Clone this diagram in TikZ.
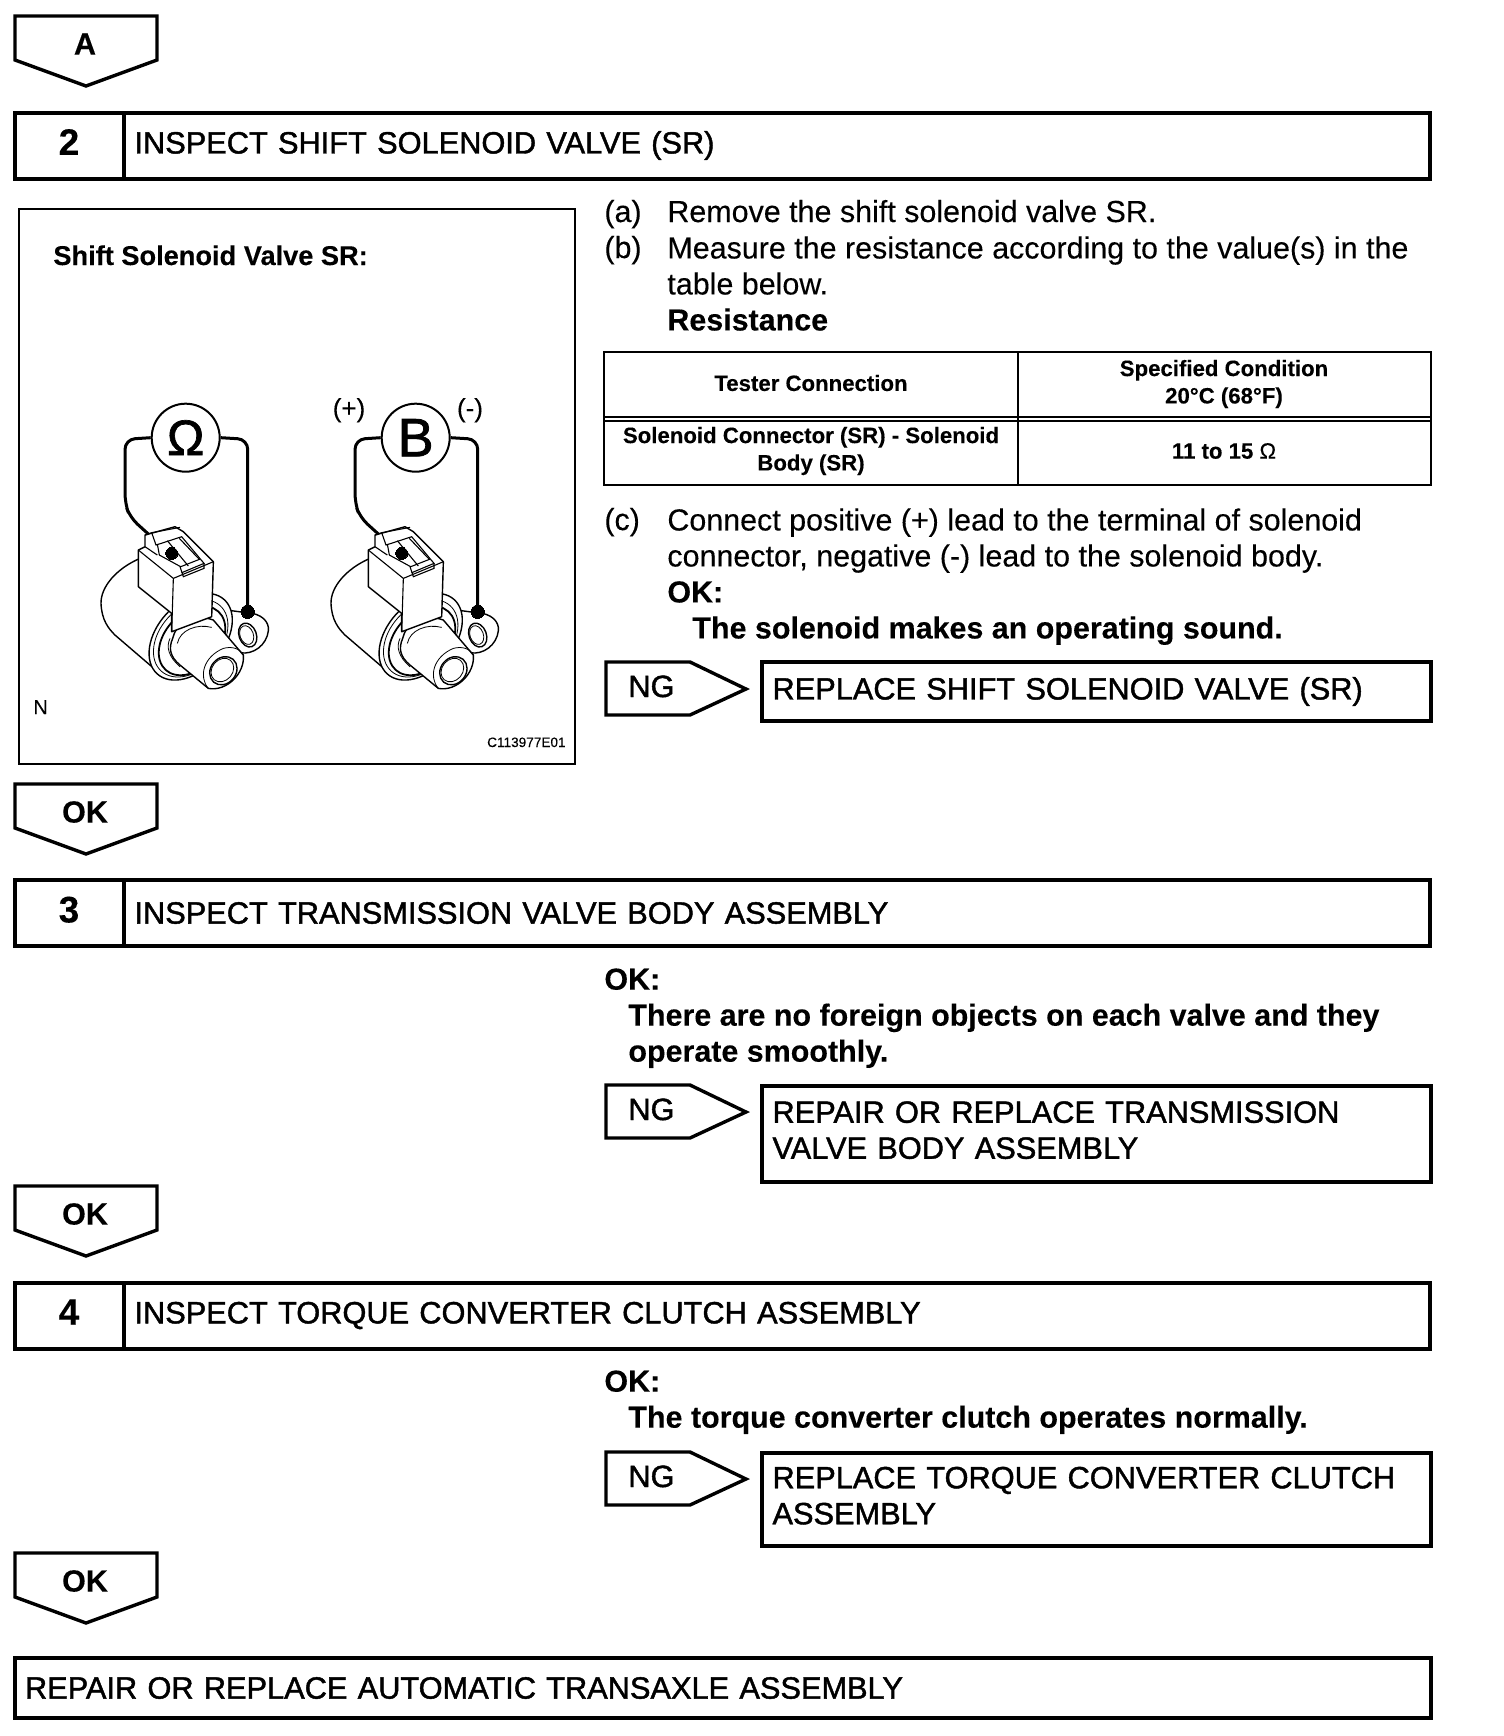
\documentclass[tikz,border=0pt]{standalone}
\usepackage{fontspec}
\setmainfont[FakeBold=0.2]{Liberation Sans}
\newfontfamily\capsfont[FakeBold=1.4]{Liberation Sans}
\usetikzlibrary{positioning}
\newcommand{\bodyfont}{\fontsize{15.22}{18}\selectfont}
\newcommand{\capsize}{\capsfont\fontsize{15.38}{18}\selectfont}
\newcommand{\tablefont}{\fontsize{11.1}{13.7}\selectfont\bfseries}
\newcommand{\liftstrut}{\rule[-4pt]{0pt}{0pt}}
\newcommand{\numstrut}{\rule[-3.5pt]{0pt}{0pt}}
\tikzset{
  heavyline/.style={draw, line width=2pt, line join=miter},
  flagline/.style={draw, line width=1.7pt, fill=white, line join=miter},
  numbox/.style={heavyline, minimum width=54.5pt, minimum height=33pt, inner sep=0pt, outer sep=0pt, font=\fontsize{18.5}{20}\selectfont\bfseries},
  titlebox/.style={heavyline, minimum width=653pt, minimum height=33pt, inner sep=0pt, outer sep=0pt, text width=642pt, font=\capsize, align=left},
  resultbox/.style={heavyline, anchor=north west, minimum width=334.5pt, inner sep=0pt, outer sep=0pt, text width=324pt, font=\capsize, align=left},
  bodytext/.style={anchor=base west, inner sep=0pt, font=\bodyfont, align=left},
  celltext/.style={inner sep=0pt, font=\tablefont, align=center},
  tableline/.style={draw, line width=1pt},
  thinpart/.style={draw, line width=0.7pt, fill=white},
  wirepart/.style={draw, line width=1.5pt, rounded corners=5pt},
  meter/.style={circle, draw, line width=1pt, minimum size=34pt, inner sep=0pt},
  pics/okflag/.style={code={
    \draw[flagline] (0,0) -- (142,0) -- (142,44) -- (71,70) -- (0,44) -- cycle;
    \node[font=\fontsize{15.3}{18}\selectfont\bfseries, inner sep=0pt] (-label) at (70,28) {#1};
  }},
  pics/ngflag/.style={code={
    \draw[flagline] (1,0) -- (85,0) -- (141,27) -- (85,53) -- (1,53) -- cycle;
    \node[anchor=base west, font=\capsize, inner sep=0pt] (-label) at (23,35) {#1};
  }},
  % one valve with its tester, drawn in thirds of a pixel
  pics/valve/.style 2 args={code={
    \begin{scope}[x=0.1667pt, y=-0.1667pt]
      % mounting ear
      \draw[thinpart] (440,660) -- (500,668) .. controls (545,670) and (568,695) .. (565,722)
        .. controls (560,765) and (520,795) .. (480,788) -- (440,770) -- cycle;
      \draw[thinpart, rotate around={-70:(503,735)}] (503,735) ellipse [x radius=37, y radius=26];
      \draw[line width=0.4pt, rotate around={-70:(500,735)}] (500,735) ellipse [x radius=29, y radius=20];
      % body
      \draw[thinpart] (180,505) .. controls (110,535) and (62,590) .. (63,640)
        .. controls (65,690) and (85,715) .. (105,735) -- (225,838) -- (330,850) -- (330,600) -- cycle;
      % flange rings
      \draw[thinpart, rotate around={48:(332,740)}] (332,740) ellipse [x radius=150, y radius=100];
      \draw[line width=0.4pt, rotate around={48:(332,745)}] (332,745) ellipse [x radius=132, y radius=92];
      \draw[thinpart, line width=0.9pt, rotate around={48:(336,752)}] (336,752) ellipse [x radius=118, y radius=82];
      % tube
      \draw[thinpart] (278,745) .. controls (285,700) and (350,670) .. (400,690) -- (490,795)
        .. controls (495,850) and (440,905) .. (385,895) -- (300,825) .. controls (270,800) and (265,775) .. (278,745) -- cycle;
      \draw[line width=0.4pt] (292,760) .. controls (300,720) and (350,700) .. (395,712);
      \draw[line width=0.4pt] (270,745) .. controls (258,770) and (265,800) .. (300,830);
      \draw[line width=0.4pt] (385,895) .. controls (355,860) and (370,800) .. (430,775) .. controls (455,768) and (480,775) .. (490,795);
      \draw[thinpart, rotate around={50:(430,842)}] (430,842) ellipse [x radius=45, y radius=38];
      \draw[line width=0.4pt, rotate around={50:(427,840)}] (427,840) ellipse [x radius=38, y radius=31];
      % connector block
      \draw[thinpart, line join=round] (175,480) -- (195,470) -- (195,435) -- (285,410) -- (310,425) -- (400,515)
        -- (395,680) -- (275,725) -- (275,670) -- (175,590) -- cycle;
      \draw[line width=0.55pt] (175,480) -- (280,565) -- (400,515);
      \draw[line width=0.55pt] (280,565) -- (275,725);
      \draw[line width=0.55pt] (195,435) -- (215,428) -- (300,412);
      \draw[line width=0.55pt] (195,470) -- (232,495);
      \draw[line width=0.55pt] (215,428) -- (228,465) -- (305,440) -- (372,520) -- (305,548);
      \draw[line width=0.55pt] (232,462) -- (238,495) -- (302,530) -- (358,508) -- (298,445);
      \draw[line width=0.55pt] (300,530) -- (310,560) -- (372,535) -- (372,520);
      \draw[line width=0.55pt] (262,452) -- (325,528);
      \draw[fill=black, line width=0pt] (275,490) circle [radius=18];
      % tester
      \node[meter, font=\capsfont\fontsize{#1}{#1}\selectfont] (-meter) at (317,143) {#2};
      \coordinate (-pin) at (205,432);
      \coordinate (-ground) at (503,665);
      \draw[wirepart] (-meter.west) -- (135,148) -- (135,340) -- (150,382) -- (-pin);
      \draw[wirepart] (-meter.east) -- (503,148) -- (-ground);
      \draw[fill=black, line width=0pt] (-ground) circle [radius=20];
    \end{scope}
  }},
}
\begin{document}
\begin{tikzpicture}[x=0.5pt, y=-0.5pt]
  \useasboundingbox[fill=white] (0,0) rectangle (1504,1736);

  \pic (flaga) at (15,16) {okflag=A};

  % step 2
  \node[numbox] (num2) at (69,145.5) {2\numstrut};
  \node[titlebox, right=0pt of num2] (title2) {INSPECT SHIFT SOLENOID VALVE (SR)};

  \node[draw, line width=1pt, minimum width=278pt, minimum height=277.5pt, anchor=north west, inner sep=0pt] (frame) at (18,208) {};
  \node[anchor=base west, inner sep=0pt, font=\fontsize{13.6}{15}\selectfont\bfseries] (figtitle) at (53,265) {Shift Solenoid Valve SR:};
  \pic (ohm) at (80,390) {valve={25}{\char"03A9}};
  \pic (batt) at (310,390) {valve={27}{B}};
  \node[anchor=base, inner sep=0pt, font=\fontsize{13}{15}\selectfont] (plus) at (349,417) {(+)};
  \node[anchor=base, inner sep=0pt, font=\fontsize{13}{15}\selectfont] (minus) at (470,417) {(-)};
  \node[anchor=base west, inner sep=0pt, font=\fontsize{10}{12}\selectfont] (nmark) at (33,714) {N};
  \node[anchor=base east, inner sep=0pt, font=\fontsize{6.8}{8}\selectfont] (figcode) at (566,747) {C113977E01};

  \node[bodytext] (marka) at (604,222) {(a)};
  \node[bodytext] (texta) at (667,222) {Remove the shift solenoid valve SR.};
  \node[bodytext] (markb) at (604,258) {(b)};
  \node[bodytext, anchor=north west] (textb) at (667,236) {Measure the resistance according to the value(s) in the\\table below.\\\textbf{Resistance}};

  % resistance table
  \node[tableline, anchor=north west, minimum width=413.5pt, minimum height=66.5pt, inner sep=0pt] (table) at (603,351) {};
  \coordinate (tabletop) at (1018,351);
  \coordinate (tablebottom) at (1018,485);
  \draw[tableline, line width=0.6pt] (tabletop) -- (tablebottom);
  \draw[tableline] (table.west |- 0,416.5) -- (table.east |- 0,416.5);
  \draw[tableline] (table.west |- 0,420.5) -- (table.east |- 0,420.5);
  \node[celltext] (head1) at (811,383) {Tester Connection};
  \node[celltext] (head2) at (1224,384) {Specified Condition\\20°C (68°F)};
  \node[celltext] (cell1) at (811,451) {Solenoid Connector (SR) - Solenoid\\Body (SR)};
  \node[celltext] (cell2) at (1224,451) {11 to 15 {\mdseries\char"03A9}};

  \node[bodytext] (markc) at (604,530) {(c)};
  \node[bodytext, anchor=north west] (textc) at (667,508) {Connect positive (+) lead to the terminal of solenoid\\connector, negative (-) lead to the solenoid body.\\\textbf{OK:}\\\hspace*{12.5pt}\textbf{The solenoid makes an operating sound.}};

  \pic (ng2) at (605,662) {ngflag=NG};
  \node[resultbox, minimum height=29.5pt] (res2) at (762,662) {REPLACE SHIFT SOLENOID VALVE (SR)};
  \pic (ok2) at (15,784) {okflag=OK};

  % step 3
  \node[numbox] (num3) at (69,913) {3\numstrut};
  \node[titlebox, right=0pt of num3] (title3) {INSPECT TRANSMISSION VALVE BODY ASSEMBLY};
  \node[bodytext, anchor=north west] (text3) at (604,968) {\textbf{OK:}\\\hspace*{12pt}\textbf{There are no foreign objects on each valve and they}\\\hspace*{12pt}\textbf{operate smoothly.}};
  \pic (ng3) at (605,1085) {ngflag=NG};
  \node[resultbox, minimum height=48pt] (res3) at (762,1086) {REPAIR OR REPLACE TRANSMISSION\\VALVE BODY ASSEMBLY\liftstrut};
  \pic (ok3) at (15,1186) {okflag=OK};

  % step 4
  \node[numbox] (num4) at (69,1315.5) {4\numstrut};
  \node[titlebox, right=0pt of num4] (title4) {INSPECT TORQUE CONVERTER CLUTCH ASSEMBLY};
  \node[bodytext, anchor=north west] (text4) at (604,1370) {\textbf{OK:}\\\hspace*{12pt}\textbf{The torque converter clutch operates normally.}};
  \pic (ng4) at (605,1452) {ngflag=NG};
  \node[resultbox, minimum height=46.5pt] (res4) at (762,1453) {REPLACE TORQUE CONVERTER CLUTCH\\ASSEMBLY\liftstrut};
  \pic (ok4) at (15,1553) {okflag=OK};

  \node[heavyline, anchor=north west, minimum width=708pt, minimum height=30pt, inner sep=0pt, text width=698pt, font=\capsize, align=left] (final) at (13,1656) {REPAIR OR REPLACE AUTOMATIC TRANSAXLE ASSEMBLY};
\end{tikzpicture}
\end{document}
